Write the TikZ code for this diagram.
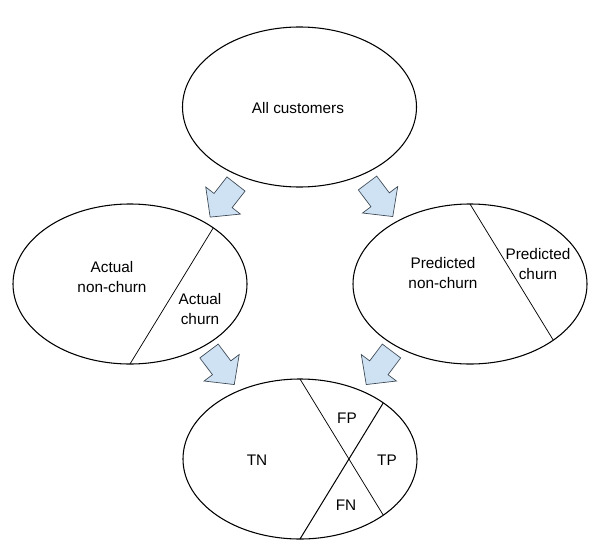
\documentclass[tikz,border=0pt]{standalone}
\usepackage{fontspec}
\setmainfont{Liberation Sans}
\usetikzlibrary{shapes.geometric}
\definecolor{arrowfill}{HTML}{CFE2F3}
\definecolor{arrowline}{HTML}{3A4652}
\begin{document}
\begin{tikzpicture}[x=0.75pt,y=-0.75pt,
  oval/.style={draw=black, line width=0.8pt, ellipse, outer sep=0pt, inner sep=0pt,
    minimum width=175.5pt, minimum height=120pt},
  lbl/.style={font=\fontsize{11.5}{14.5}\selectfont, align=center, inner sep=0pt},
  divider/.style={draw=black, line width=0.55pt},
  arrowstyle/.style={fill=arrowfill, draw=arrowline, line width=0.5pt, line join=miter},
  blockarrow/.pic={\path[arrowstyle] (0,-11.5) -- (21,-11.5) -- (21,-22) -- (42,0)
     -- (21,22) -- (21,11.5) -- (0,11.5) -- cycle;}]
\useasboundingbox (0,0) rectangle (602,546);

% ellipses
\node[oval] (all) at (299.5,107) {};
\node[oval] (act) at (130,284) {};
\node[oval] (pred) at (470,284) {};
\node[oval] (conf) at (300,459) {};

% texts
\node[lbl] (tall) at (298,108) {All customers};
\node[lbl] (tactn) at (112,277) {Actual\\non-churn};
\node[lbl] (tactc) at (200,309) {Actual\\churn};
\node[lbl] (tpredn) at (443,273) {Predicted\\non-churn};
\node[lbl] (tpredc) at (538,264) {Predicted\\churn};
\node[lbl] (tn) at (257,460) {TN};
\node[lbl] (fp) at (347,418) {FP};
\node[lbl] (tp) at (387,460) {TP};
\node[lbl] (fn) at (346,505) {FN};

% dividing lines
\draw[divider] (act.34.4) -- (act.south);
\draw[divider] (pred.north) -- (pred.-34.4);
\draw[divider] (conf.north) -- (conf.-34.4);
\draw[divider, line width=0.75pt] (conf.34.4) -- (conf.south);

% block arrows
\pic[rotate=232] at (236,184) {blockarrow};
\pic[rotate=-53] at (367.5,183) {blockarrow};
\pic[rotate=-53] at (209,351) {blockarrow};
\pic[rotate=233] at (391.5,351) {blockarrow};
\end{tikzpicture}
\end{document}
